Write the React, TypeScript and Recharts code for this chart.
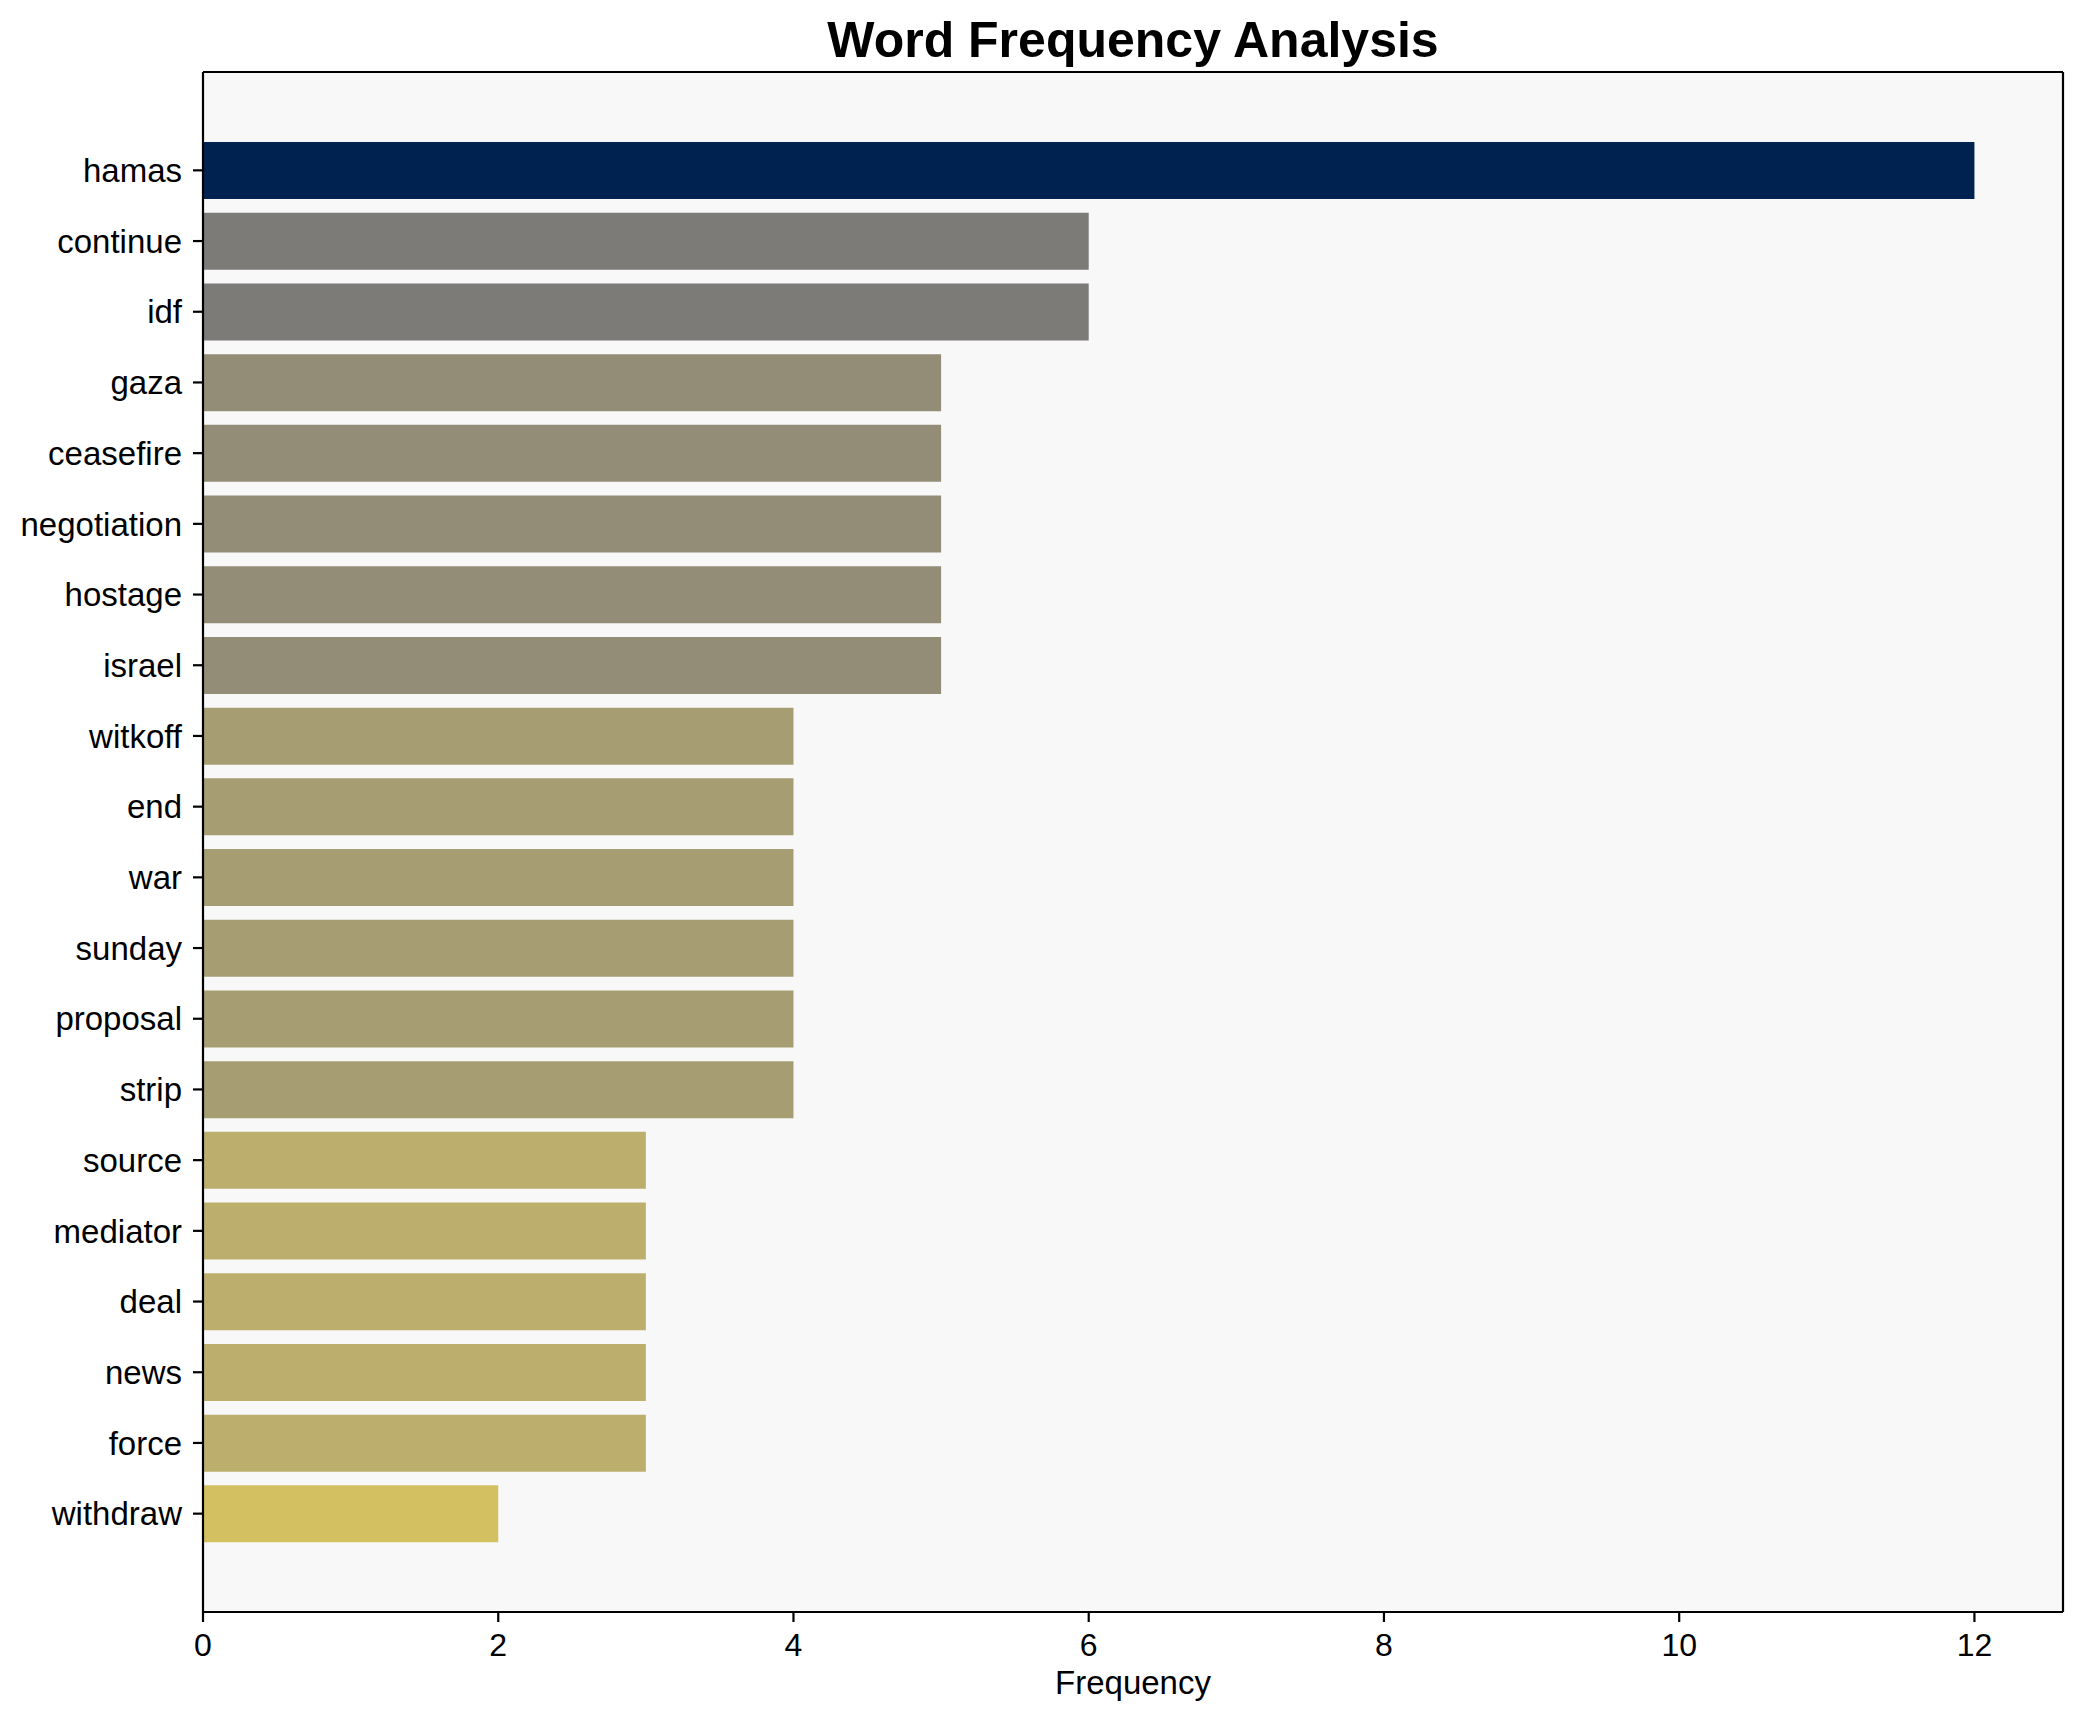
import React from 'react';
import { BarChart, Bar, XAxis, YAxis, CartesianGrid, Cell } from 'recharts';

const words = ['hamas', 'continue', 'idf', 'gaza', 'ceasefire', 'negotiation', 'hostage', 'israel', 'witkoff', 'end', 'war', 'sunday', 'proposal', 'strip', 'source', 'mediator', 'deal', 'news', 'force', 'withdraw'];
const frequencies = [12, 6, 6, 5, 5, 5, 5, 5, 4, 4, 4, 4, 4, 4, 3, 3, 3, 3, 3, 2];
const xTicks = [0, 2, 4, 6, 8, 10, 12];

const colorByValue: Record<number, string> = {
  12: '#002251',
  6: '#7d7b78',
  5: '#938c77',
  4: '#a69d73',
  3: '#bcaf6e',
  2: '#d3c161',
};

const data = words.map((w, i) => ({ word: w, freq: frequencies[i] }));

const FONT = '"Liberation Sans", Arial, Helvetica, sans-serif';

export default function App() {
  return (
    <div style={{ width: 2066, height: 1706, fontFamily: FONT }}>
      <BarChart
        width={2066}
        height={1706}
        data={data}
        layout="vertical"
        margin={{ top: 63, right: 10, left: 0, bottom: 0 }}
        barCategoryGap="10%"
        style={{ fontFamily: FONT }}
      >
        <CartesianGrid horizontal={false} vertical={false} fill="#f8f8f8" />
        <XAxis
          type="number"
          dataKey="freq"
          domain={[0, 12.6]}
          ticks={xTicks}
          allowDataOverflow
          height={102}
          tickSize={10}
          tickMargin={11}
          tick={{ fill: '#000', fontSize: 32, fontFamily: FONT }}
          tickLine={{ stroke: '#000', strokeWidth: 2.2 }}
          axisLine={{ stroke: '#000', strokeWidth: 2.2 }}
          label={{ value: 'Frequency', position: 'insideBottom', offset: 20, fill: '#000', fontSize: 33, fontFamily: FONT }}
        />
        <XAxis
          xAxisId="top"
          orientation="top"
          type="number"
          domain={[0, 12.6]}
          height={1}
          tick={false}
          tickLine={false}
          axisLine={{ stroke: '#000', strokeWidth: 2.2 }}
        />
        <YAxis
          type="category"
          dataKey="word"
          width={195}
          interval={0}
          padding={{ top: 63, bottom: 63 }}
          tickSize={10}
          tickMargin={11}
          tick={{ fill: '#000', fontSize: 33, fontFamily: FONT }}
          tickLine={{ stroke: '#000', strokeWidth: 2.2 }}
          axisLine={{ stroke: '#000', strokeWidth: 2.2 }}
        />
        <YAxis
          yAxisId="right"
          orientation="right"
          type="category"
          dataKey="word"
          width={1}
          tick={false}
          tickLine={false}
          axisLine={{ stroke: '#000', strokeWidth: 2.2 }}
        />
        <Bar dataKey="freq" isAnimationActive={false}>
          {data.map((d, i) => (
            <Cell key={i} fill={colorByValue[d.freq]} />
          ))}
        </Bar>
        <text x={1125} y={49} textAnchor="middle" fontSize={50} fontWeight="bold" fill="#000" fontFamily={FONT}>
          Word Frequency Analysis
        </text>
      </BarChart>
    </div>
  );
}
